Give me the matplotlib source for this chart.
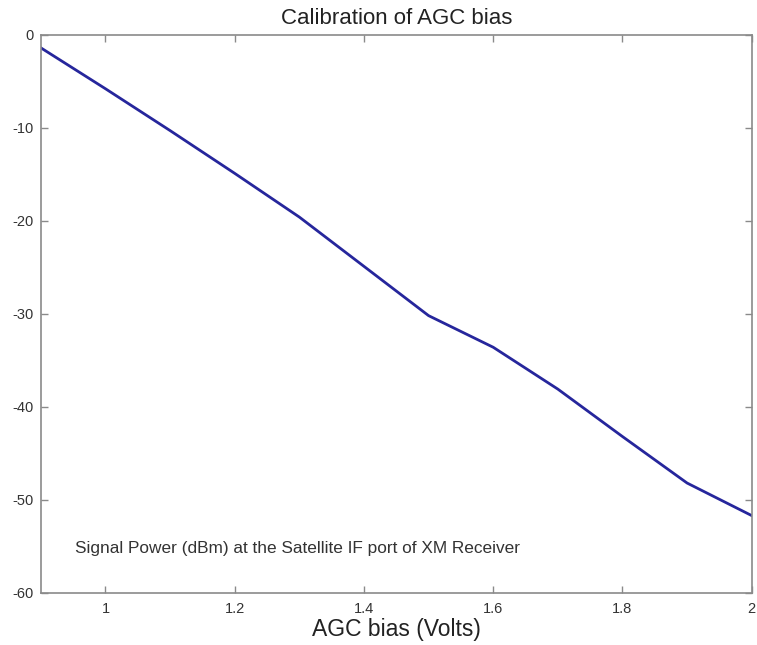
import matplotlib
matplotlib.use('Agg')
import matplotlib.pyplot as plt
from matplotlib.ticker import FuncFormatter

# AGC bias sweep and measured signal power at the satellite IF port
agc_bias = [0.9, 1.0, 1.1, 1.2, 1.3, 1.4, 1.5, 1.6, 1.7, 1.8, 1.9, 2.0]
power_dbm = [-1.4, -5.8, -10.3, -14.9, -19.6, -24.9, -30.2, -33.6, -38.1, -43.2, -48.2, -51.7]

xticks = [1.0, 1.2, 1.4, 1.6, 1.8, 2.0]
yticks = [0, -10, -20, -30, -40, -50, -60]

plt.rcParams['font.family'] = ['Liberation Sans', 'DejaVu Sans']
plt.rcParams['axes.unicode_minus'] = False

fig = plt.figure(figsize=(7.57, 6.45), dpi=100)
ax = fig.add_axes([0.054, 0.081, 0.939, 0.865])

ax.plot(agc_bias, power_dbm, color='#26269c', lw=2.0, solid_joinstyle='round')

ax.set_xlim(0.9, 2.0)
ax.set_ylim(-60, 0)
ax.set_xticks(xticks)
ax.set_yticks(yticks)
ax.xaxis.set_major_formatter(FuncFormatter(lambda v, p: '%g' % v))
ax.yaxis.set_major_formatter(FuncFormatter(lambda v, p: '%g' % v))

for s in ax.spines.values():
    s.set_color('#8a8a8a')
    s.set_linewidth(1.2)
ax.tick_params(direction='in', top=True, right=True, length=5, width=1,
               color='#8a8a8a', labelsize=10.5, labelcolor='#333333')
ax.tick_params(axis='x', pad=7)
ax.tick_params(axis='y', pad=5)

ax.set_title('Calibration of AGC bias', fontsize=16, color='#222222', pad=8)
ax.set_xlabel('AGC bias (Volts)', fontsize=16.5, color='#222222', labelpad=1)

ax.text(0.953, -55.2, 'Signal Power (dBm) at the Satellite IF port of XM Receiver',
        fontsize=12.4, color='#333333', va='center', ha='left')

fig.savefig('out.png', dpi=100)
